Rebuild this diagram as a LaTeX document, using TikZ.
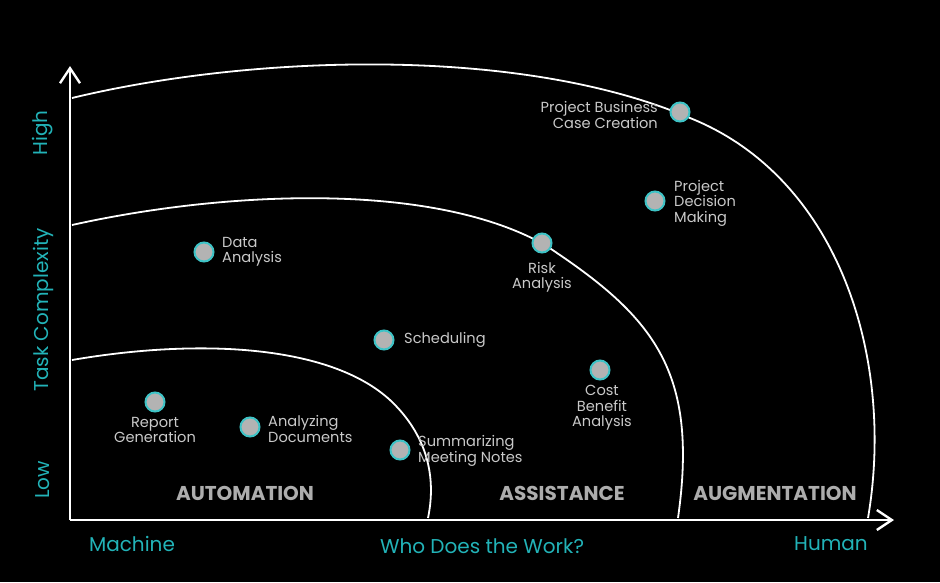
\documentclass[tikz,border=0pt]{standalone}
\usepackage{fontspec}
\setmainfont{Poppins}
\usetikzlibrary{arrows.meta}
\definecolor{bg}{HTML}{000000}
\definecolor{teal}{HTML}{22B3B8}
\definecolor{dotfill}{HTML}{B3B3B3}
\definecolor{dotring}{HTML}{3EC3C6}
\definecolor{labelgray}{HTML}{C9C9C9}
\definecolor{zonegray}{HTML}{ADADAD}
\tikzset{
  task/.style={circle, minimum size=19pt, inner sep=0pt, fill=dotfill, draw=dotring, line width=2pt},
  tasklabel/.style={text=labelgray, font=\fontsize{14.6}{15.5}\selectfont, inner sep=0pt},
  zone/.style={text=zonegray, font=\fontsize{20}{24}\selectfont\bfseries, inner sep=0pt},
  axislabel/.style={text=teal, font=\fontsize{20}{24}\selectfont, inner sep=0pt},
  axisline/.style={white, line width=2.4pt, -{Straight Barb[length=15pt,width=20pt,line width=2.4pt]}},
  boundary/.style={white, line width=1.8pt}
}
\begin{document}
\begin{tikzpicture}[x=1pt,y=-1pt]
  \fill[bg] (0,0) rectangle (940,582);
  \useasboundingbox (0,0) rectangle (940,582);

  % axes
  \coordinate (origin) at (70,520);
  \coordinate (ytop) at (70,66);
  \coordinate (xend) at (894,520);
  \draw[axisline] (origin) -- (ytop);
  \draw[axisline] (origin) -- (xend);

  % zone boundaries
  \draw[boundary] (72,98) .. controls (250,55) and (520,45) .. (690,118)
                          .. controls (840,178) and (895,360) .. (868,518);
  \draw[boundary] (72,225) .. controls (220,192) and (430,180) .. (545,245)
                           .. controls (653,316) and (699,370) .. (678,518);
  \draw[boundary] (72,360) .. controls (200,338) and (330,345) .. (390,400)
                           .. controls (422,430) and (438,470) .. (428,518);

  % axis labels
  \node[axislabel] (machine) at (132,544) {Machine};
  \node[axislabel] (who) at (482,546) {Who Does the Work?};
  \node[axislabel] (human) at (831,544) {Human};
  \node[axislabel, rotate=90] (high) at (43,133) {High};
  \node[axislabel, rotate=90] (cplx) at (43,310) {Task Complexity};
  \node[axislabel, rotate=90] (low) at (43,480) {Low};

  % zone names
  \node[zone] (automation) at (245,493) {AUTOMATION};
  \node[zone] (assistance) at (562,493) {ASSISTANCE};
  \node[zone] (augmentation) at (775,493) {AUGMENTATION};

  % tasks
  \node[task] (pbcc) at (680,112) {};
  \node[tasklabel, anchor=east, align=right] (pbccL) at (658,115) {Project Business\\Case Creation};
  \node[task] (pdm) at (655,201) {};
  \node[tasklabel, anchor=west, align=left] (pdmL) at (674,203) {Project\\Decision\\Making};
  \node[task] (da) at (204,252) {};
  \node[tasklabel, anchor=west, align=left] (daL) at (222,252) {Data\\Analysis};
  \node[task] (ra) at (542,243) {};
  \node[tasklabel, anchor=north, align=center] (raL) at (542,262) {Risk\\Analysis};
  \node[task] (sch) at (384,340) {};
  \node[tasklabel, anchor=west] (schL) at (404,340) {Scheduling};
  \node[task] (cba) at (600,370) {};
  \node[tasklabel, anchor=north, align=center] (cbaL) at (602,385) {Cost\\Benefit\\Analysis};
  \node[task] (rg) at (155,402) {};
  \node[tasklabel, anchor=north, align=center] (rgL) at (155,417) {Report\\Generation};
  \node[task] (ad) at (250,427) {};
  \node[tasklabel, anchor=west, align=left] (adL) at (268,429) {Analyzing\\Documents};
  \node[task] (smn) at (400,450) {};
  \node[tasklabel, anchor=west, align=left] (smnL) at (418,451) {Summarizing\\Meeting Notes};
\end{tikzpicture}
\end{document}
